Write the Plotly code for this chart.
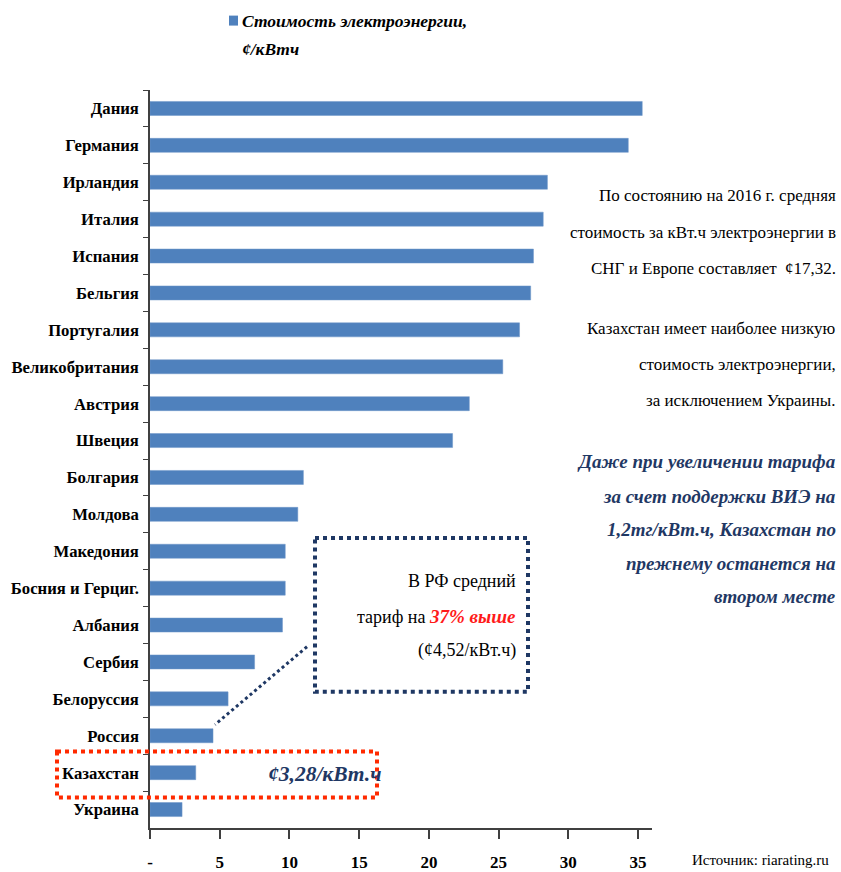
import plotly.graph_objects as go

countries = ["Дания", "Германия", "Ирландия", "Италия", "Испания", "Бельгия", "Португалия",
             "Великобритания", "Австрия", "Швеция", "Болгария", "Молдова", "Македония",
             "Босния и Герциг.", "Албания", "Сербия", "Белоруссия", "Россия", "Казахстан", "Украина"]
prices = [35.3, 34.3, 28.5, 28.2, 27.5, 27.3, 26.5, 25.3, 22.9, 21.7, 11.0, 10.6, 9.7, 9.7, 9.5,
          7.5, 5.6, 4.52, 3.28, 2.3]
tick_vals = [0, 5, 10, 15, 20, 25, 30, 35]
tick_text = ["-", "5", "10", "15", "20", "25", "30", "35"]
legend_lines = ["Стоимость электроэнергии,", "¢/кВтч"]

W, H = 841, 872
L, R, T, B = 150, 652, 89.5, 828.5  # plot area in pixels
SERIF = "Liberation Serif"
NAVY = "#1F3864"
BLUE = "#4F81BD"


def px(x):
    return (x - L) / (R - L)


def py(y):
    return (B - y) / (B - T)


fig = go.Figure(go.Bar(
    x=prices, y=countries, orientation="h", name=" ".join(legend_lines),
    marker=dict(color=BLUE, line=dict(color="#6E97C9", width=0.5)),
    showlegend=False,
))

fig.update_layout(
    width=W, height=H,
    margin=dict(l=L, r=W - R, t=T, b=H - B, autoexpand=False),
    paper_bgcolor="white", plot_bgcolor="white",
    bargap=0.62,
    font=dict(family=SERIF, color="black"),
    xaxis=dict(range=[0, 36], tickvals=tick_vals, ticktext=tick_text,
               showgrid=False, zeroline=False, showline=True, linecolor="#404040", linewidth=1.5,
               ticks="outside", ticklen=9, tickcolor="#404040", tickwidth=1.5,
               ticklabelstandoff=9,
               tickfont=dict(family=SERIF, size=17, color="black", weight="bold"), fixedrange=True),
    yaxis=dict(autorange="reversed", categoryorder="array", categoryarray=countries,
               showgrid=False, showline=True, linecolor="#404040", linewidth=1.5,
               ticks="outside", tickson="boundaries", ticklen=5, tickcolor="#404040",
               ticklabelstandoff=6,
               tickfont=dict(family=SERIF, size=16.7, color="black", weight="bold"), fixedrange=True),
)

ann = []
# legend text
for t, y in zip(legend_lines, [20, 48]):
    ann.append(dict(text="<b><i>" + t + "</i></b>", x=px(240), y=py(y), xanchor="left",
                    yanchor="middle", font=dict(family=SERIF, size=17.5, color="black")))

# right-hand notes, one annotation per line to reproduce the loose leading
black_lines = [("По состоянию на 2016 г. средняя", 195),
               ("стоимость за кВт.ч электроэнергии в", 232),
               ("СНГ и Европе составляет  ¢17,32.", 268),
               ("Казахстан имеет наиболее низкую", 328),
               ("стоимость электроэнергии,", 364),
               ("за исключением Украины.", 400)]
for t, y in black_lines:
    ann.append(dict(text=t, x=px(838), y=py(y), xanchor="right", yanchor="middle",
                    font=dict(family=SERIF, size=17, color="black")))
blue_lines = [("Даже при увеличении тарифа", 462),
              ("за счет поддержки ВИЭ на", 497),
              ("1,2тг/кВт.ч, Казахстан по", 530),
              ("прежнему останется на", 564),
              ("втором месте", 597)]
for t, y in blue_lines:
    ann.append(dict(text="<b><i>" + t + "</i></b>", x=px(838), y=py(y), xanchor="right",
                    yanchor="middle", font=dict(family=SERIF, size=19, color=NAVY)))

# Russia callout
box_lines = [("В РФ средний", 581),
             ("тариф на <b><i><span style='color:#FF1A1A;font-size:19px'>37% выше</span></i></b>", 617),
             ("(¢4,52/кВт.ч)", 651)]
for t, y in box_lines:
    ann.append(dict(text=t, x=px(518), y=py(y), xanchor="right", yanchor="middle",
                    font=dict(family=SERIF, size=18, color="black")))

# Kazakhstan label
ann.append(dict(text="<b><i>¢3,28/кВт.ч</i></b>", x=px(384), y=py(774), xanchor="right",
                yanchor="middle", font=dict(family=SERIF, size=21.5, color=NAVY)))

# source
ann.append(dict(text="Источник: riarating.ru", x=px(831), y=py(861), xanchor="right",
                yanchor="middle", font=dict(family=SERIF, size=15, color="black")))

for a in ann:
    a.update(xref="paper", yref="paper", showarrow=False)
fig.update_layout(annotations=ann)

shapes = [
    # legend swatch
    dict(type="rect", x0=px(229), x1=px(238), y0=py(15), y1=py(25),
         fillcolor=BLUE, line=dict(width=0)),
    dict(type="rect", x0=px(315), x1=px(528), y0=py(538), y1=py(692),
         line=dict(color=NAVY, width=4, dash="dot")),
    dict(type="line", x0=px(307), y0=py(647), x1=px(215), y1=py(725),
         line=dict(color=NAVY, width=3, dash="dot")),
    dict(type="rect", x0=px(57), x1=px(377), y0=py(752), y1=py(798),
         line=dict(color="#FF2A00", width=4, dash="dot")),
]
for s in shapes:
    s.update(xref="paper", yref="paper", layer="above")
fig.update_layout(shapes=shapes)

fig.write_html("out.html", config={"displayModeBar": False},
               post_script="document.body.style.margin='0';document.body.style.overflow='hidden';")
